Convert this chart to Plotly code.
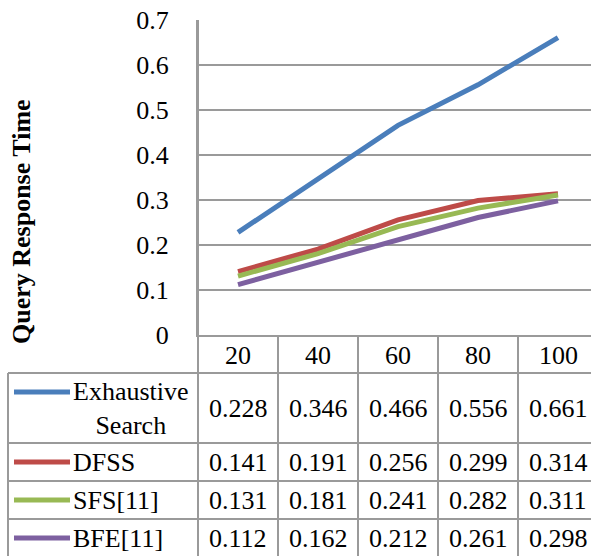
import plotly.graph_objects as go

categories = ["20", "40", "60", "80", "100"]
series_names = ["Exhaustive<br>Search", "DFSS", "SFS[11]", "BFE[11]"]
exhaustive = [0.228, 0.346, 0.466, 0.556, 0.661]
dfss = [0.141, 0.191, 0.256, 0.299, 0.314]
sfs = [0.131, 0.181, 0.241, 0.282, 0.311]
bfe = [0.112, 0.162, 0.212, 0.261, 0.298]
colors = ["#4A7EBB", "#BE4B48", "#98B954", "#7D60A0"]
y_ticks = [0, 0.1, 0.2, 0.3, 0.4, 0.5, 0.6, 0.7]
y_title = "Query Response Time"

W, H = 591, 556
FONT = "Liberation Serif, Times New Roman, serif"
GRID = "#9a9a9a"
FS = 26

series = [exhaustive, dfss, sfs, bfe]
xs = list(range(len(categories)))

plot_left, plot_top, plot_bottom = 198, 20, 335
col_w = 80
x_max = -0.5 + (W - plot_left) / col_w

def py(p):
    return 1 - p / H

def px(p):
    return p / W

fig = go.Figure()
for name, vals, c in zip(series_names, series, colors):
    fig.add_trace(go.Scatter(x=xs, y=vals, mode="lines", name=name,
                             line=dict(color=c, width=5), showlegend=False,
                             hoverinfo="skip"))

shapes = []
annotations = []

row_lines = [373, 443, 481, 519]
row_centers = [408, 462, 500, 538]

for r in row_lines:
    shapes.append(dict(type="line", xref="paper", yref="paper",
                       x0=px(8), x1=1, y0=py(r), y1=py(r),
                       line=dict(color=GRID, width=2)))
for i in range(len(categories)):
    shapes.append(dict(type="line", xref="x", yref="paper",
                       x0=i + 0.5, x1=i + 0.5, y0=py(plot_bottom), y1=0,
                       line=dict(color=GRID, width=2)))
shapes.append(dict(type="line", xref="paper", yref="paper",
                   x0=px(plot_left), x1=px(plot_left), y0=py(plot_top), y1=0,
                   line=dict(color=GRID, width=2)))
shapes.append(dict(type="line", xref="paper", yref="paper",
                   x0=px(8), x1=px(8), y0=py(373), y1=0,
                   line=dict(color=GRID, width=2)))

def ann(x, y, text, xref="paper", xanchor="center", **kw):
    d = dict(x=x, y=y, xref=xref, yref="paper", text=text, showarrow=False,
             xanchor=xanchor, yanchor="middle",
             font=dict(family=FONT, size=FS, color="black"))
    d.update(kw)
    return d

for i, cat in enumerate(categories):
    annotations.append(ann(i, py(355), cat, xref="x"))

for r, (name, vals, c) in enumerate(zip(series_names, series, colors)):
    yc = row_centers[r]
    key_y = 392 if r == 0 else yc
    shapes.append(dict(type="line", xref="paper", yref="paper",
                       x0=px(14), x1=px(70), y0=py(key_y), y1=py(key_y),
                       line=dict(color=c, width=5)))
    annotations.append(ann(px(71), py(yc), name, xanchor="left", align="center"))
    for i, v in enumerate(vals):
        annotations.append(ann(i, py(yc), f"{v:.3f}", xref="x"))

annotations.append(ann(px(22), py(222), f"<b>{y_title}</b>", textangle=-90,
                       font=dict(family=FONT, size=26, color="black")))

fig.update_layout(
    width=W, height=H,
    margin=dict(l=0, r=0, t=0, b=0, autoexpand=False),
    paper_bgcolor="white", plot_bgcolor="white",
    shapes=shapes, annotations=annotations,
    xaxis=dict(domain=[px(plot_left), 1], range=[-0.5, x_max],
               showticklabels=False, showgrid=False, zeroline=False,
               automargin=False,
               showline=True, linecolor=GRID, linewidth=2, ticks=""),
    yaxis=dict(domain=[py(plot_bottom), py(plot_top)], range=[0, 0.7],
               tickvals=y_ticks, ticktext=[f"{t:g}" for t in y_ticks],
               showgrid=True, gridcolor=GRID, gridwidth=2, zeroline=False,
               automargin=False,
               showline=True, linecolor=GRID, linewidth=2, ticks="",
               ticklabelstandoff=22,
               tickfont=dict(family=FONT, size=FS, color="black")),
)
fig.write_html("out.html")
